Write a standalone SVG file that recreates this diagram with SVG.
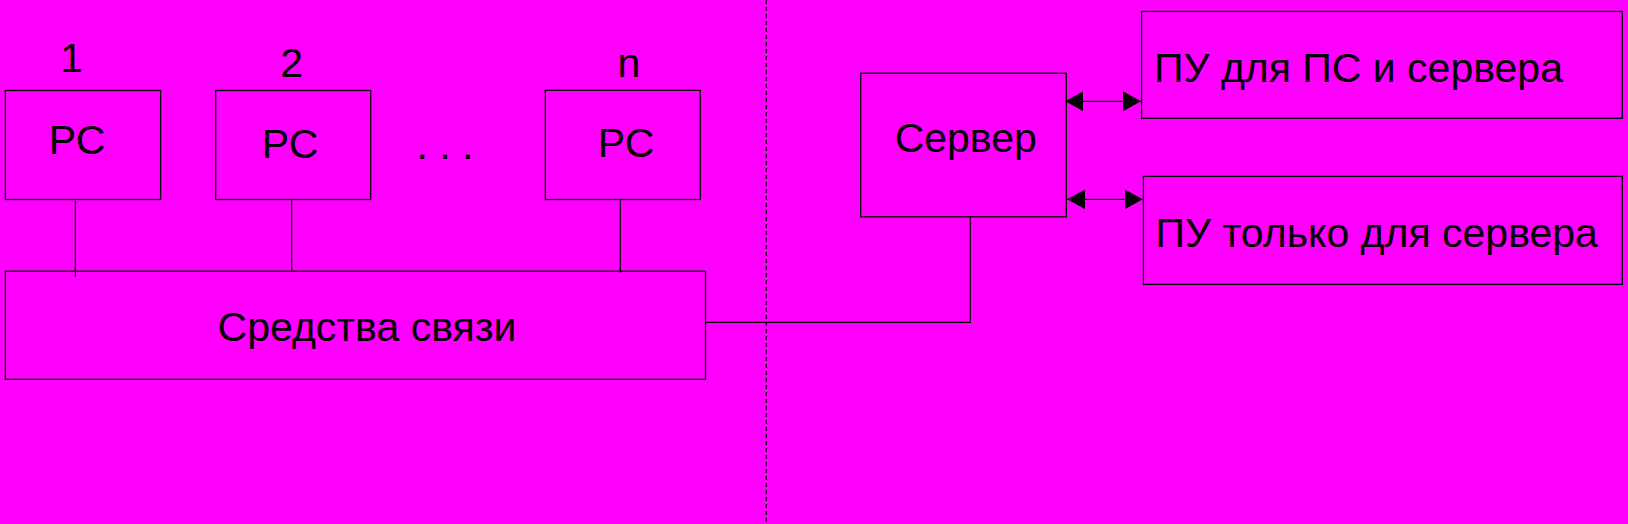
<svg xmlns="http://www.w3.org/2000/svg" width="1628" height="524" viewBox="0 0 1628 524">
<style>
.box{fill:none;stroke:#000;stroke-width:1.3}
.ln{fill:none;stroke:#000;stroke-width:1.2}
.t{font-family:"Liberation Sans",Arial,sans-serif;font-size:41px;fill:#000}
.c{text-anchor:middle}
</style>
<defs>
<marker id="ah" viewBox="0 0 18 20" refX="18" refY="10" markerWidth="18" markerHeight="20" markerUnits="userSpaceOnUse" orient="auto-start-reverse">
<path d="M0,0 L18,10 L0,20 Z" fill="#000"/>
</marker>
</defs>
<rect width="1628" height="524" fill="#FF00FF"/>
<g id="connectors">
<line class="ln" x1="766.3" y1="0" x2="766.3" y2="524" stroke-dasharray="4 3"/>
<line class="ln" x1="75.3" y1="200.5" x2="75.3" y2="277"/>
<line class="ln" x1="291.7" y1="199.5" x2="291.7" y2="271" stroke-width="0.8"/>
<line class="ln" x1="620.3" y1="199.5" x2="620.3" y2="272.5"/>
<polyline class="ln" points="706,322.4 970.3,322.4 970.3,217"/>
<line class="ln" x1="1065.3" y1="101.3" x2="1141" y2="101.3" marker-start="url(#ah)" marker-end="url(#ah)"/>
<line class="ln" x1="1067.3" y1="199.3" x2="1142.7" y2="199.3" marker-start="url(#ah)" marker-end="url(#ah)"/>
</g>
<g id="label1"><text class="t c" x="71.6" y="71.7">1</text></g>
<g id="label2"><text class="t c" x="291.7" y="76.7">2</text></g>
<g id="labeln"><text class="t c" x="629" y="77.3">n</text></g>
<g id="rc1">
<rect class="box" x="5.3" y="90.5" width="155.3" height="109"/>
<text class="t c" x="77" y="154.3">РС</text>
</g>
<g id="rc2">
<rect class="box" x="215.7" y="90.5" width="155" height="109"/>
<text class="t c" x="290" y="158.3">РС</text>
</g>
<g id="dots"><text class="t c" x="445" y="159.3">. . .</text></g>
<g id="rcn">
<rect class="box" x="545.3" y="90.3" width="155" height="109.2"/>
<text class="t c" x="626" y="156.7">РС</text>
</g>
<g id="comm">
<rect class="box" x="5.3" y="271.2" width="700.2" height="108.1"/>
<text class="t c" x="367" y="341">Средства связи</text>
</g>
<g id="server">
<rect class="box" x="860.7" y="73.2" width="205.6" height="143.6"/>
<text class="t c" x="965.7" y="151.7">Сервер</text>
</g>
<g id="pu1">
<rect class="box" x="1141.6" y="11.4" width="480.7" height="106.9"/>
<text class="t" x="1154" y="81.7">ПУ для ПС и сервера</text>
</g>
<g id="pu2">
<rect class="box" x="1143.4" y="176.4" width="478.9" height="108"/>
<text class="t" x="1155.6" y="246.7">ПУ только для сервера</text>
</g>
</svg>
